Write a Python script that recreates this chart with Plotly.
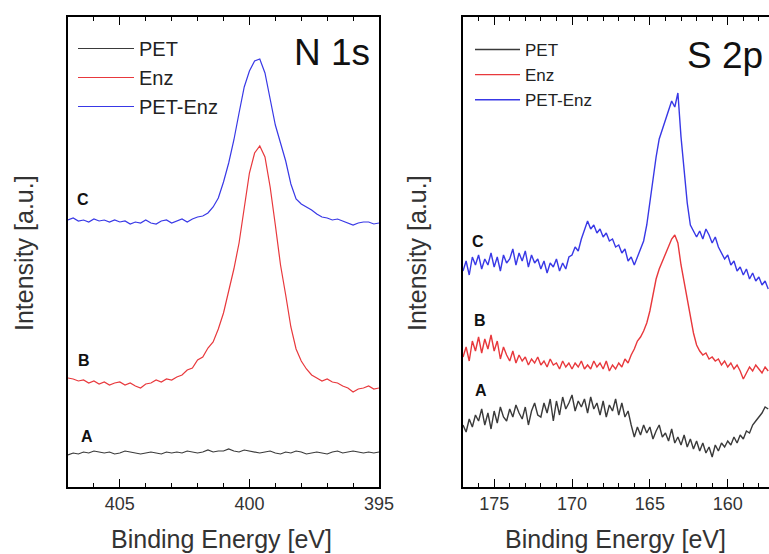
import plotly.graph_objects as go

# ---------------- data ----------------
# N 1s panel (binding energy, eV)
n1s_energy = [407.0, 406.8, 406.6, 406.4, 406.2, 406.0, 405.8, 405.6, 405.4, 405.2,
              405.0, 404.8, 404.6, 404.4, 404.2, 404.0, 403.8, 403.6, 403.4, 403.2,
              403.0, 402.8, 402.6, 402.4, 402.2, 402.0, 401.8, 401.6, 401.4, 401.2,
              401.0, 400.8, 400.6, 400.4, 400.2, 400.0, 399.8, 399.6, 399.4, 399.2,
              399.0, 398.8, 398.6, 398.4, 398.2, 398.0, 397.8, 397.6, 397.4, 397.2,
              397.0, 396.8, 396.6, 396.4, 396.2, 396.0, 395.8, 395.6, 395.4, 395.2,
              395.0]
n1s_pet = [32, 34, 33, 35, 34, 36, 35, 34, 35, 33,
           34, 36, 35, 34, 33, 34, 35, 34, 33, 35,
           34, 35, 34, 36, 35, 34, 35, 37, 35, 36,
           36, 38, 36, 35, 37, 36, 35, 34, 35, 36,
           34, 33, 35, 34, 36, 35, 33, 34, 35, 34,
           33, 35, 36, 34, 35, 36, 35, 34, 35, 34, 35]
n1s_enz = [109, 108, 106, 107, 104, 106, 103, 105, 102, 104,
           105, 102, 104, 101, 99, 103, 104, 107, 105, 108,
           107, 110, 112, 117, 119, 127, 130, 139, 145, 158,
           174, 196, 218, 244, 280, 314, 334, 341, 330, 300,
           262, 222, 192, 160, 138, 126, 118, 112, 109, 106,
           108, 105, 104, 101, 99, 95, 98, 99, 101, 98, 99]
n1s_petenz = [267, 269, 266, 267, 265, 268, 266, 267, 265, 267,
              265, 266, 263, 265, 264, 267, 264, 263, 266, 267,
              264, 266, 268, 265, 268, 270, 271, 274, 280, 289,
              305, 324, 347, 374, 400, 416, 426, 428, 414, 388,
              362, 344, 326, 303, 288, 283, 280, 277, 273, 270,
              269, 267, 268, 266, 264, 262, 264, 265, 265, 263, 264]

# S 2p panel (binding energy, eV)
s2p_energy = [177.0, 176.8, 176.6, 176.4, 176.2, 176.0, 175.8, 175.6, 175.4, 175.2,
              175.0, 174.8, 174.6, 174.4, 174.2, 174.0, 173.8, 173.6, 173.4, 173.2,
              173.0, 172.8, 172.6, 172.4, 172.2, 172.0, 171.8, 171.6, 171.4, 171.2,
              171.0, 170.8, 170.6, 170.4, 170.2, 170.0, 169.8, 169.6, 169.4, 169.2,
              169.0, 168.8, 168.6, 168.4, 168.2, 168.0, 167.8, 167.6, 167.4, 167.2,
              167.0, 166.8, 166.6, 166.4, 166.2, 166.0, 165.8, 165.6, 165.4, 165.2,
              165.0, 164.8, 164.6, 164.4, 164.2, 164.0, 163.8, 163.6, 163.4, 163.2,
              163.0, 162.8, 162.6, 162.4, 162.2, 162.0, 161.8, 161.6, 161.4, 161.2,
              161.0, 160.8, 160.6, 160.4, 160.2, 160.0, 159.8, 159.6, 159.4, 159.2,
              159.0, 158.8, 158.6, 158.4, 158.2, 158.0, 157.8, 157.6, 157.4]
s2p_pet = [62, 55, 68, 60, 72, 66, 78, 62, 74, 58,
           76, 64, 80, 70, 66, 78, 70, 82, 74, 68,
           80, 62, 76, 84, 72, 70, 84, 74, 88, 66,
           86, 72, 90, 78, 84, 92, 76, 86, 80, 88,
           74, 90, 78, 84, 72, 86, 70, 82, 76, 88,
           72, 84, 70, 76, 62, 50, 60, 52, 62, 54,
           60, 48, 56, 62, 50, 54, 46, 58, 44, 50,
           42, 52, 40, 48, 38, 46, 36, 44, 34, 40,
           30, 42, 36, 44, 40, 46, 42, 50, 44, 52,
           48, 56, 54, 62, 66, 70, 74, 80, 78]
s2p_enz = [130, 140, 126, 146, 136, 150, 134, 148, 138, 152,
           136, 146, 128, 140, 132, 126, 136, 124, 132, 126,
           130, 122, 128, 124, 130, 122, 126, 120, 128, 122,
           124, 118, 126, 120, 124, 118, 124, 120, 126, 118,
           122, 118, 126, 120, 124, 118, 126, 116, 122, 118,
           124, 120, 128, 124, 132, 138, 146, 150, 156, 164,
           176, 194, 208, 218, 226, 234, 240, 248, 252, 244,
           222, 204, 186, 172, 154, 142, 136, 132, 134, 128,
           130, 126, 128, 122, 126, 120, 124, 118, 122, 116,
           108, 114, 120, 116, 122, 118, 114, 120, 116]
s2p_petenz = [216, 226, 212, 230, 222, 232, 218, 228, 222, 234,
              220, 230, 216, 232, 224, 228, 238, 222, 234, 226,
              236, 220, 232, 224, 228, 218, 226, 214, 224, 220,
              228, 216, 224, 218, 230, 232, 240, 236, 248, 256,
              266, 258, 262, 254, 258, 250, 254, 246, 248, 240,
              242, 234, 238, 226, 230, 222, 230, 236, 246, 262,
              286, 308, 330, 348, 358, 366, 376, 386, 380, 394,
              350, 318, 284, 262, 256, 250, 256, 248, 258, 252,
              244, 250, 240, 234, 228, 232, 222, 226, 216, 220,
              212, 218, 208, 214, 206, 210, 202, 206, 198]

series_names = ["PET", "Enz", "PET-Enz"]
series_colors = ["#3a3a3a", "#e8383c", "#3838e6"]
n1s_ticks = [405, 400, 395]
s2p_ticks = [175, 170, 165, 160]

FONT = "Arial, Liberation Sans, sans-serif"

fig = go.Figure()

n1s_series = [n1s_pet, n1s_enz, n1s_petenz]
s2p_series = [s2p_pet, s2p_enz, s2p_petenz]

for name, color, ys in zip(series_names, series_colors, n1s_series):
    fig.add_trace(go.Scatter(x=n1s_energy, y=ys, mode="lines", name=name,
                             line=dict(color=color, width=1.2),
                             xaxis="x", yaxis="y", legend="legend"))
for name, color, ys in zip(series_names, series_colors, s2p_series):
    fig.add_trace(go.Scatter(x=s2p_energy, y=ys, mode="lines", name=name,
                             line=dict(color=color, width=1.4),
                             xaxis="x2", yaxis="y2", legend="legend2"))

W, H = 769, 554
MT = 17
MB = 554 - 487
PH = H - MT - MB


def px(x):
    return x / W


def py(y):
    return (H - MB - y) / PH


xcommon = dict(showline=True, linecolor="black", linewidth=1.6, mirror="allticks",
               ticks="inside", ticklen=8, tickwidth=1.3, tickcolor="black",
               minor=dict(dtick=1, ticks="inside", ticklen=4, tickwidth=1.1, tickcolor="black"),
               showgrid=False, zeroline=False, automargin=False,
               tickfont=dict(family=FONT, size=18, color="#333333"),
               ticklabelstandoff=0)
ycommon = dict(showline=True, linecolor="black", linewidth=1.6, ticks="",
               showticklabels=False, showgrid=False, zeroline=False, range=[0, 470],
               automargin=False)

fig.update_layout(
    width=W, height=H, autosize=False,
    margin=dict(l=0, r=0, t=MT, b=MB, pad=0, autoexpand=False),
    paper_bgcolor="white", plot_bgcolor="white",
    font=dict(family=FONT, color="#222222"),
    xaxis=dict(domain=[px(68), px(379)], range=[407, 395], tickvals=n1s_ticks,
               anchor="y", **xcommon),
    yaxis=dict(domain=[0, 1], anchor="x", mirror=True, **ycommon),
    xaxis2=dict(domain=[px(463), 1.0], range=[177, 157.35], tickvals=s2p_ticks,
                anchor="y2", **xcommon),
    yaxis2=dict(domain=[0, 1], anchor="x2", mirror=False, **ycommon),
    legend=dict(x=px(73), y=py(29), xanchor="left", yanchor="top",
                bgcolor="rgba(0,0,0,0)", itemwidth=56,
                font=dict(family=FONT, size=20, color="#222222")),
    legend2=dict(x=px(470), y=py(32), xanchor="left", yanchor="top",
                 bgcolor="rgba(0,0,0,0)", itemwidth=45,
                 font=dict(family=FONT, size=17, color="#222222")),
    showlegend=True,
)

annos = [
    dict(text="N 1s", x=px(332), y=py(52), size=37, bold=False),
    dict(text="S 2p", x=px(725), y=py(55), size=37, bold=False),
    dict(text="C", x=px(83), y=py(200), size=16, bold=True),
    dict(text="B", x=px(84), y=py(360), size=16, bold=True),
    dict(text="A", x=px(87), y=py(436), size=16, bold=True),
    dict(text="C", x=px(478), y=py(241), size=16, bold=True),
    dict(text="B", x=px(480), y=py(320), size=16, bold=True),
    dict(text="A", x=px(481), y=py(390), size=16, bold=True),
]
for a in annos:
    t = "<b>%s</b>" % a["text"] if a["bold"] else a["text"]
    fig.add_annotation(text=t, x=a["x"], y=a["y"], xref="paper", yref="paper",
                       xanchor="center", yanchor="middle", showarrow=False,
                       font=dict(family=FONT, size=a["size"], color="#111111"))

for xc in [px(221), px(615)]:
    fig.add_annotation(text="Binding Energy [eV]", x=xc, y=py(539), xref="paper", yref="paper",
                       xanchor="center", yanchor="middle", showarrow=False,
                       font=dict(family=FONT, size=25, color="#333333"))
for xc in [px(24), px(417)]:
    fig.add_annotation(text="Intensity [a.u.]", x=xc, y=py(253), xref="paper", yref="paper",
                       xanchor="center", yanchor="middle", showarrow=False, textangle=-90,
                       font=dict(family=FONT, size=25, color="#333333"))

# remove the default 8px page margin so the 769x554 figure fills the window exactly
fig.write_html("out.html", config={"displayModeBar": False},
               post_script="document.body.style.margin='0';document.body.style.overflow='hidden';")
